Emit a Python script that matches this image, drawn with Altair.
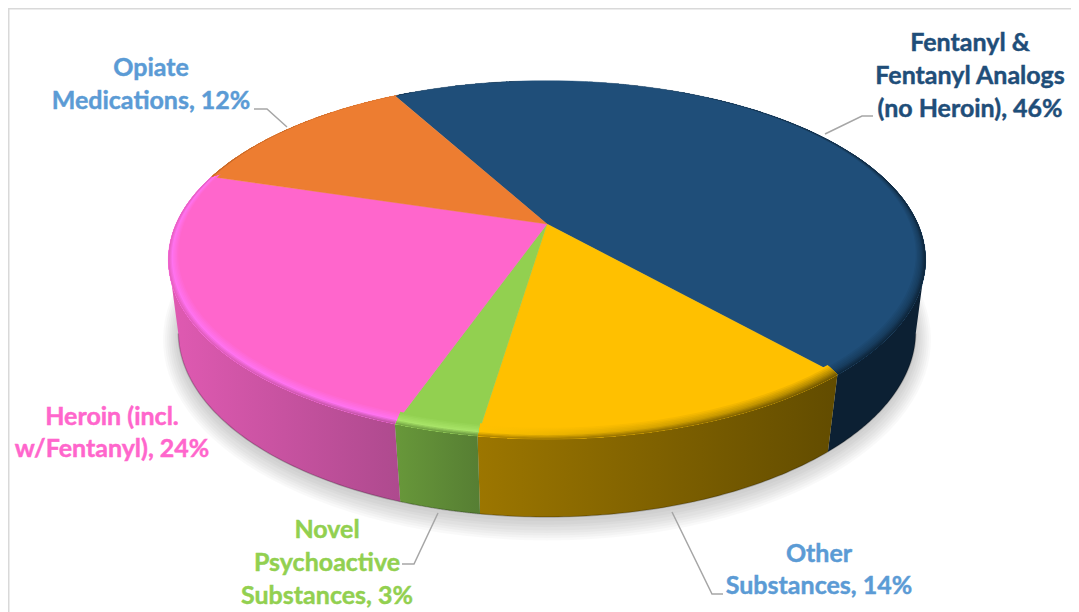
import math
import altair as alt
import pandas as pd

# ---- chart values -------------------------------------------------------
names = ["Fentanyl & Fentanyl Analogs (no Heroin)", "Other Substances",
         "Novel Psychoactive Substances", "Heroin (incl. w/Fentanyl)", "Opiate Medications"]
shares = [46.4, 14.0, 3.0, 24.3, 12.3]
first_angle = -28.8
face = ["#1F4E79", "#FFC000", "#92D050", "#FF66CC", "#ED7D31"]
rim_l = ["#163B5C", "#FFC200", "#A8E468", "#FF72F0", "#ED7D31"]
rim_r = ["#163B5C", "#A98100", "#A8E468", "#FF72F0", "#ED7D31"]
wall_l = ["#0C2033", "#9C7600", "#68983A", "#E05AB2", "#A85820"]
wall_r = ["#0C2033", "#624C00", "#567E33", "#AE4A8E", "#A85820"]

label_lines = [
    ("Fentanyl &", "#1F4E79"), ("Fentanyl Analogs", "#1F4E79"), ("(no Heroin), 46%", "#1F4E79"),
    ("Opiate", "#5B9BD5"), ("Medications, 12%", "#5B9BD5"),
    ("Other", "#5B9BD5"), ("Substances, 14%", "#5B9BD5"),
    ("Novel", "#92D050"), ("Psychoactive", "#92D050"), ("Substances, 3%", "#92D050"),
    ("Heroin (incl.", "#FF66CC"), ("w/Fentanyl), 24%", "#FF66CC"),
]
label_x = [970, 970, 970, 151, 151, 819, 819, 327, 327, 327, 112, 112]
label_y = [43, 76, 109, 68, 101, 554, 586, 530, 563, 596, 417, 449]
leaders = [
    [(825, 134), (862, 116), (873, 116)],
    [(254, 109), (267, 109), (287, 127)],
    [(438, 513), (414, 564), (402, 564)],
    [(672, 512), (712, 594), (723, 594)],
]

# ---- perspective pie geometry (page pixels) -----------------------------
K_T, K_B = 0.20, 0.19
BEV = 0.024


def top(t, f=0.0):
    r = math.radians(t)
    u = math.sin(r) * (1 - BEV * f)
    v = -math.cos(r) * (1 - BEV * f) - BEV * f
    w = 1 - K_T * v
    return 547 + 371 * u / w, 224 + 172 * v / w


def bottom(t, e=0.0, dy=0.0):
    r = math.radians(t)
    u, v = math.sin(r), -math.cos(r)
    w = 1 - K_B * v
    return 547 + (362 + e) * u / w, 296.6 + dy + (178.5 + e) * v / w


def arc(fn, a, b, n=70):
    return [fn(a + (b - a) * i / n) for i in range(n + 1)]


def mix(c1, c2, m):
    p = [int(c1[i:i + 2], 16) for i in (1, 3, 5)]
    q = [int(c2[i:i + 2], 16) for i in (1, 3, 5)]
    return "#%02X%02X%02X" % tuple(round(a + (b - a) * m) for a, b in zip(p, q))


X = alt.X("x:Q", scale=None, axis=None)
Y = alt.Y("y:Q", scale=None, axis=None)


def frame(points):
    return pd.DataFrame([{"x": p[0] - 8, "y": p[1] - 8, "i": i} for i, p in enumerate(points)])


def poly(points, fill, **kw):
    kw.setdefault("strokeWidth", 0)
    return alt.Chart(frame(points)).mark_line(fill=fill, stroke=kw.pop("stroke", "transparent"),
                                              interpolate="linear", **kw).encode(
        x=X, y=Y, order="i:Q")


def path(points, color, width, **kw):
    return alt.Chart(frame(points)).mark_line(color=color, strokeWidth=width, **kw).encode(
        x=X, y=Y, order="i:Q")


def grad(c1, c2):
    return alt.LinearGradient(gradient="linear", x1=0, x2=1, y1=0, y2=0,
                              stops=[alt.GradientStop(color=c1, offset=0),
                                     alt.GradientStop(color=c2, offset=1)])


total = sum(shares)
angles = [first_angle]
for s in shares:
    angles.append(angles[-1] + s / total * 360)

layers = []
# frame of the chart
layers.append(path([(8.7, 612), (8.7, 8.7), (1071, 8.7)], "#D9D9D9", 1.6))

# soft shadow
for e, dy in [(15, 5), (13, 5), (11, 5), (9, 5), (7, 5), (5, 4), (3, 4), (1, 3)]:
    layers.append(poly(arc(lambda t: bottom(t, e, dy), 0, 360, 140), "#000000", opacity=0.022))

# side walls (only the visible part, up to the cylinder's silhouette)
SIL_R, SIL_L = 101.5, 258.5
for i in range(len(shares)):
    a, b = max(angles[i], SIL_R), min(angles[i + 1], SIL_L)
    if a >= b:
        continue
    pts = arc(top, a, b) + arc(bottom, a, b)[::-1]
    layers.append(poly(pts, grad(wall_l[i], wall_r[i])))
layers.append(path(arc(bottom, SIL_R, SIL_L, 160), "#000000", 1.4, opacity=0.22))

# top face wedges
for i in range(len(shares)):
    pts = [(547, 224)] + arc(top, angles[i], angles[i + 1]) + [(547, 224)]
    layers.append(poly(pts, face[i], stroke=face[i], strokeWidth=0.4))

# bevel along the rim
steps = [1.0, 0.88, 0.76, 0.64, 0.52, 0.4, 0.3, 0.2, 0.1]
for i in range(len(shares)):
    a, b = angles[i], angles[i + 1]
    for f in steps:
        if f >= 0.4:
            m = (1 - f) / 0.6
            c1, c2 = mix(face[i], rim_l[i], m), mix(face[i], rim_r[i], m)
        else:
            m = (0.4 - f) / 0.4
            c1, c2 = mix(rim_l[i], wall_l[i], m), mix(rim_r[i], wall_r[i], m)
        pts = arc(top, a, b) + arc(lambda t: top(t, f), a, b)[::-1]
        layers.append(poly(pts, grad(c1, c2)))

# leader lines
for pts in leaders:
    layers.append(path(pts, "#A6A6A6", 1.5))

# labels
label_df = pd.DataFrame({
    "x": [v - 8 for v in label_x], "y": [v - 8 for v in label_y],
    "text": [l[0] for l in label_lines], "color": [l[1] for l in label_lines],
})
layers.append(alt.Chart(label_df).mark_text(font="Lato", fontWeight="bold", fontSize=25,
                                            strokeWidth=0.45, align="center",
                                            baseline="middle").encode(
    x=X, y=Y, text="text:N", color=alt.Color("color:N", scale=None),
    stroke=alt.Stroke("color:N", scale=None)))

chart = alt.layer(*layers).properties(
    width=1063, height=604, padding=0, background="white",
    autosize=alt.AutoSizeParams(type="none", contains="padding"),
).configure_view(stroke=None)
chart.save("out.html", embed_options={"renderer": "svg", "actions": False})
